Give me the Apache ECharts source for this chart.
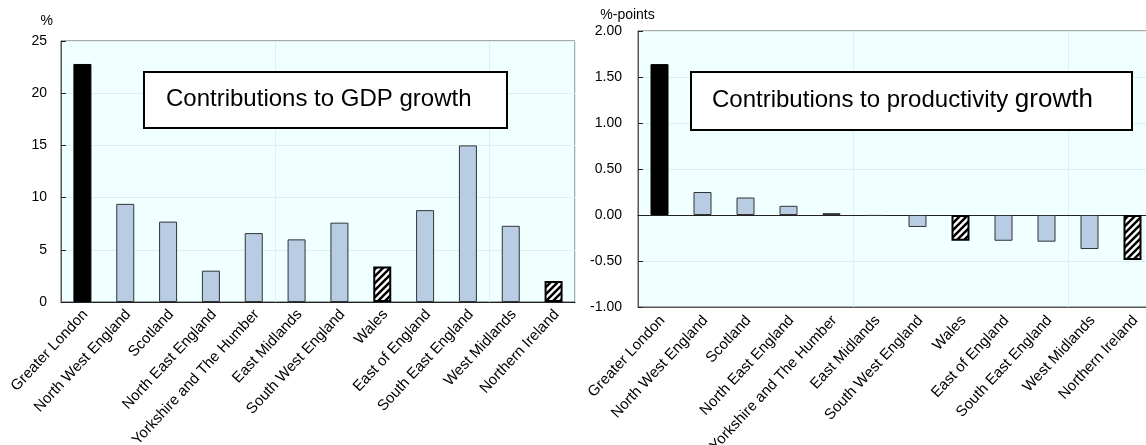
<!DOCTYPE html>
<html><head><meta charset="utf-8">
<script src="https://cdn.jsdelivr.net/npm/echarts@6/dist/echarts.min.js"></script>
<style>html,body{margin:0;padding:0;background:#fff}#c{width:1146px;height:445px}</style>
</head><body><div id="c"></div>
<script>
const categories = ['Greater London','North West England','Scotland','North East England','Yorkshire and The Humber','East Midlands','South West England','Wales','East of England','South East England','West Midlands','Northern Ireland'];
const gdpContrib = [22.8, 9.4, 7.7, 3.0, 6.6, 6.0, 7.6, 3.4, 8.8, 15.0, 7.3, 2.0];
const productivityContrib = [1.64, 0.25, 0.19, 0.10, 0.02, -0.01, -0.13, -0.28, -0.28, -0.29, -0.37, -0.49];
const highlightRegion = 'Greater London';
const hatchedRegions = ['Wales','Northern Ireland'];
const gdpTitle = 'Contributions to GDP growth';
const prodTitle = 'Contributions to productivity growth';

const FONT = '"Liberation Sans", Arial, sans-serif';

function makeHatch(){
  const c = document.createElement('canvas'); c.width = 7; c.height = 7;
  const g = c.getContext('2d');
  g.fillStyle = '#fff'; g.fillRect(0,0,7,7);
  g.strokeStyle = '#000'; g.lineWidth = 2.5;
  g.beginPath();
  for (let k = -1; k <= 1; k++) { g.moveTo(k*7-1, 8); g.lineTo(k*7+8, -1); }
  g.stroke();
  return c;
}
const hatch = makeHatch();

function styleFor(name){
  if (name === highlightRegion) return {color:'#000', borderColor:'#000', borderWidth:1};
  if (hatchedRegions.includes(name)) return {color:{image:hatch, repeat:'repeat'}, borderColor:'#000', borderWidth:2};
  return {color:'#B8CCE4', borderColor:'#333', borderWidth:1};
}
function buildData(values){
  return values.map((v,i) => ({value:v, itemStyle:styleFor(categories[i])}));
}

const faint = '#DDEFEF';
const tickLabelStyle = {color:'#000', fontFamily:FONT, fontSize:14};
const LABEL_SHIFT = 3;

// label-only category axis (slightly shifted grid) so rotated labels end just right of each bar
function labelAxis(gridIndex, margin){
  return {type:'category', gridIndex, data:categories,
    axisLine:{show:false, onZero:false}, axisTick:{show:false}, splitLine:{show:false},
    axisLabel:{color:'#000', fontFamily:FONT, fontSize:15, rotate:47, interval:0, margin}};
}

const chart = echarts.init(document.getElementById('c'), null, {renderer:'canvas'});
chart.setOption({
  animation:false,
  backgroundColor:'#fff',
  grid:[
    {left:61, top:41, width:514, height:261, show:true, backgroundColor:'#F0FFFF', borderColor:'#555', borderWidth:1, outerBoundsMode:'none', containLabel:false},
    {left:638, top:31, width:516, height:276, show:true, backgroundColor:'#F0FFFF', borderColor:'#555', borderWidth:1, outerBoundsMode:'none', containLabel:false},
    {left:61+LABEL_SHIFT, top:41, width:514, height:261, show:false, outerBoundsMode:'none', containLabel:false},
    {left:638+LABEL_SHIFT, top:31, width:516, height:276, show:false, outerBoundsMode:'none', containLabel:false}
  ],
  xAxis:[
    {type:'category', gridIndex:0, data:categories,
      axisLine:{lineStyle:{color:'#222', width:1}},
      axisTick:{inside:true, length:4, lineStyle:{color:'#222'}},
      splitLine:{show:true, lineStyle:{color:faint}},
      axisLabel:{show:false}},
    {type:'category', gridIndex:1, data:categories,
      axisLine:{onZero:false, lineStyle:{color:'#555'}},
      axisTick:{show:false},
      splitLine:{show:true, lineStyle:{color:faint}},
      axisLabel:{show:false}},
    {type:'category', gridIndex:1, data:categories, position:'top',
      axisLine:{onZero:true, lineStyle:{color:'#222'}},
      axisTick:{inside:true, length:4, lineStyle:{color:'#222'}},
      axisLabel:{show:false}, splitLine:{show:false}},
    labelAxis(2, 10),
    labelAxis(3, 11)
  ],
  yAxis:[
    {type:'value', gridIndex:0, min:0, max:25, interval:5,
      name:'%', nameLocation:'end', nameGap:13,
      nameTextStyle:{color:'#000', fontFamily:FONT, fontSize:14, align:'right', padding:[0,8,0,0]},
      axisLine:{show:true, lineStyle:{color:'#555'}},
      axisTick:{show:true, inside:true, length:5, lineStyle:{color:'#222'}},
      splitLine:{show:true, lineStyle:{color:faint}},
      axisLabel:Object.assign({margin:14}, tickLabelStyle)},
    {type:'value', gridIndex:1, min:-1, max:2, interval:0.5,
      name:'%-points', nameLocation:'end', nameGap:9,
      nameTextStyle:{color:'#000', fontFamily:FONT, fontSize:14, align:'center', padding:[0,21,0,0]},
      axisLine:{show:true, lineStyle:{color:'#555'}},
      axisTick:{show:true, inside:true, length:5, lineStyle:{color:'#222'}},
      splitLine:{show:true, lineStyle:{color:faint}},
      axisLabel:Object.assign({margin:16, formatter:v => v.toFixed(2)}, tickLabelStyle)},
    {type:'value', gridIndex:2, show:false, min:0, max:25},
    {type:'value', gridIndex:3, show:false, min:-1, max:2}
  ],
  series:[
    {type:'bar', xAxisIndex:0, yAxisIndex:0, barWidth:18, data:buildData(gdpContrib)},
    {type:'bar', xAxisIndex:1, yAxisIndex:1, barWidth:18, data:buildData(productivityContrib)}
  ],
  graphic:[
    {type:'rect', shape:{x:144, y:72, width:363, height:56}, style:{fill:'#fff', stroke:'#000', lineWidth:2}, z:100},
    {type:'text', x:166, y:99, z:101, style:{text:gdpTitle, fill:'#000', font:'24px '+FONT, verticalAlign:'middle', align:'left'}},
    {type:'rect', shape:{x:691, y:72, width:441, height:58}, style:{fill:'#fff', stroke:'#000', lineWidth:2}, z:100},
    {type:'text', x:712, y:100, z:101, style:{
      text:'{a|' + prodTitle.replace(/ growth$/, ' ') + '}{b|growth}',
      verticalAlign:'middle', align:'left',
      rich:{a:{fontSize:24, fontFamily:FONT, fill:'#000', color:'#000'}, b:{fontSize:26, fontFamily:FONT, fill:'#000', color:'#000'}}}}
  ]
});
</script></body></html>
